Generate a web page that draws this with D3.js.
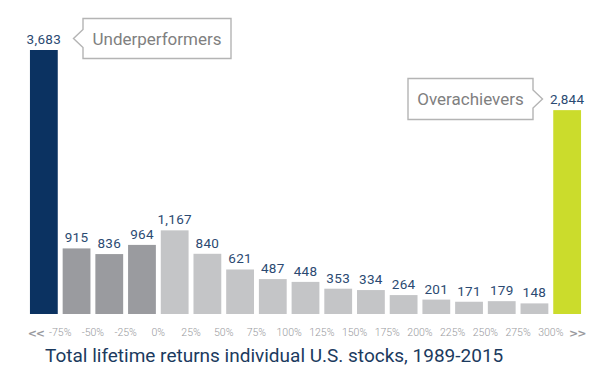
<!DOCTYPE html>
<html><head><meta charset="utf-8">
<script src="https://cdn.jsdelivr.net/npm/d3@7"></script>
<style>body{margin:0;background:#fff}svg{display:block}</style>
</head><body>
<svg id="c" width="612" height="376"></svg>
<script>
const categories = ["<-75%","-75%..-50%","-50%..-25%","-25%..0%","0%..25%","25%..50%","50%..75%","75%..100%","100%..125%","125%..150%","150%..175%","175%..200%","200%..225%","225%..250%","250%..275%","275%..300%",">300%"];
const counts = [3683,915,836,964,1167,840,621,487,448,353,334,264,201,171,179,148,2844];
const groups = ["under","neg","neg","neg","pos","pos","pos","pos","pos","pos","pos","pos","pos","pos","pos","pos","over"];
const tickLabels = ["-75%","-50%","-25%","0%","25%","50%","75%","100%","125%","150%","175%","200%","225%","250%","275%","300%"];
const title = "Total lifetime returns individual U.S. stocks, 1989-2015";
const colors = {under:"#0b3261", neg:"#9a9b9f", pos:"#c4c5c7", over:"#cbdc2c"};

const svg = d3.select("#c");
const x = d3.scaleBand().domain(d3.range(counts.length)).range([27.5, 583.5]).paddingInner(0.15).paddingOuter(0.075);
const y = d3.scaleLinear().domain([0, 3683]).range([314, 50]);
const fmt = d3.format(",");

svg.selectAll("rect.bar").data(counts).join("rect").attr("class","bar")
  .attr("x",(d,i)=>x(i)).attr("width",x.bandwidth())
  .attr("y",d=>y(d)).attr("height",d=>y(0)-y(d))
  .attr("fill",(d,i)=>colors[groups[i]]);

svg.selectAll("text.val").data(counts).join("text").attr("class","val")
  .attr("x",(d,i)=>x(i)+x.bandwidth()/2).attr("y",d=>y(d)-6)
  .attr("text-anchor","middle").attr("font-family","Roboto, sans-serif")
  .attr("font-size",13.5).attr("fill","#2b4a72").attr("letter-spacing",0.3).text(d=>fmt(d));

const half = x.step()*x.paddingInner()/2;
svg.selectAll("text.tick").data(tickLabels).join("text").attr("class","tick")
  .attr("x",(d,i)=>x(i+1)-half).attr("y",336)
  .attr("text-anchor","middle").attr("font-family","Roboto, sans-serif").attr("font-weight",300)
  .attr("font-size",10.5).attr("fill","#999a9e").text(d=>d);

svg.append("text").attr("x",x(0)+x.bandwidth()/2-8).attr("y",336.5).attr("text-anchor","middle")
  .attr("font-family","DejaVu Sans, sans-serif").attr("font-weight","bold").attr("font-size",11)
  .attr("fill","#999a9e").attr("letter-spacing",-1).text("<<");
svg.append("text").attr("x",x(counts.length-1)+x.bandwidth()/2+10).attr("y",336.5).attr("text-anchor","middle")
  .attr("font-family","DejaVu Sans, sans-serif").attr("font-weight","bold").attr("font-size",11)
  .attr("fill","#999a9e").attr("letter-spacing",-1).text(">>");

// callouts
function callout(x0,x1,y0,y1,side,label){
  const ym=(y0+y1)/2, n=9, t=9.5;
  let p;
  if(side==="left"){
    p=`M${x0},${y0}H${x1}V${y1}H${x0}V${ym+n}L${x0-t},${ym}L${x0},${ym-n}Z`;
  } else {
    p=`M${x0},${y0}H${x1}V${ym-n}L${x1+t},${ym}L${x1},${ym+n}V${y1}H${x0}Z`;
  }
  svg.append("path").attr("d",p).attr("fill","#fff").attr("stroke","#b4b4b4").attr("stroke-width",1.4);
  svg.append("text").attr("x",(x0+x1)/2).attr("y",ym+6).attr("text-anchor","middle")
    .attr("font-family","Roboto, sans-serif").attr("font-size",17).attr("fill","#808080").text(label);
}
callout(83,231,18.5,58.5,"left","Underperformers");
callout(408,533,78.5,119.5,"right","Overachievers");

svg.append("text").attr("x",45).attr("y",362).attr("font-family","Roboto, sans-serif")
  .attr("font-size",19).attr("fill","#1b3a5e").text(title);
</script>
</body></html>
